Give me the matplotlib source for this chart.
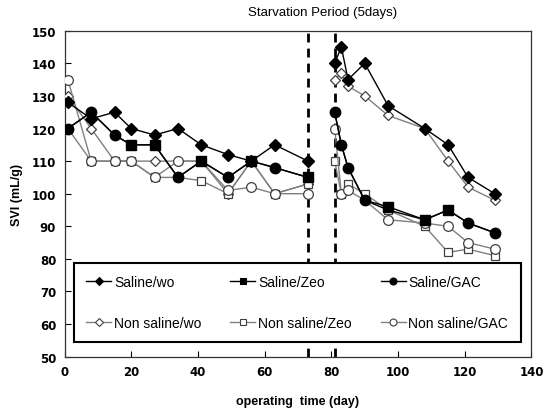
import matplotlib
matplotlib.use("Agg")
import matplotlib.pyplot as plt
from matplotlib.lines import Line2D

# ---- data ----
days_pre = [1, 8, 15, 20, 27, 34, 41, 49, 56, 63, 73]
days_post = [81, 83, 85, 90, 97, 108, 115, 121, 129]

saline_wo_pre = [128, 123, 125, 120, 118, 120, 115, 112, 110, 115, 110]
saline_wo_post = [140, 145, 135, 140, 127, 120, 115, 105, 100]
saline_zeo_pre = [120, 125, 118, 115, 115, 105, 110, 105, 110, 108, 105]
saline_zeo_post = [125, 115, 108, 98, 96, 92, 95, 91, 88]
saline_gac_pre = [120, 125, 118, 115, 115, 105, 110, 105, 110, 108, 105]
saline_gac_post = [125, 115, 108, 98, 95, 92, 95, 91, 88]

non_wo_pre = [130, 120, 110, 110, 110, 110, 110, 100, 110, 100, 103]
non_wo_post = [135, 137, 133, 130, 124, 120, 110, 102, 98]
non_zeo_pre = [120, 110, 110, 110, 105, 105, 104, 100, 110, 100, 103]
non_zeo_post = [110, 100, 103, 100, 95, 90, 82, 83, 81]
non_gac_pre = [135, 110, 110, 110, 105, 110, 110, 101, 102, 100, 100]
non_gac_post = [120, 100, 101, 98, 92, 91, 90, 85, 83]

labels = ["Saline/wo", "Saline/Zeo", "Saline/GAC",
          "Non saline/wo", "Non saline/Zeo", "Non saline/GAC"]
starvation_bounds = [73, 81]
x_ticks = [0, 20, 40, 60, 80, 100, 120, 140]
y_ticks = [50, 60, 70, 80, 90, 100, 110, 120, 130, 140, 150]

# ---- figure ----
fig = plt.figure(figsize=(5.44, 4.14), dpi=100)
ax = fig.add_axes([0.1186, 0.136, 0.8584, 0.7874])

gray = "#808080"
edge_open = "#404040"

def draw(days, vals, marker, ms, filled, color, markevery=None, z=3):
    if filled:
        ax.plot(days, vals, color=color, lw=1.0, marker=marker, ms=ms,
                mfc="black", mec="black", markevery=markevery, zorder=z)
    else:
        ax.plot(days, vals, color=color, lw=1.0, marker=marker, ms=ms,
                mfc="white", mec=edge_open, mew=0.9, markevery=markevery, zorder=z)

# non saline (drawn first, underneath)
for d, v in [(days_pre, non_wo_pre), (days_post, non_wo_post)]:
    draw(d, v, "D", 5.5, False, gray, z=3)
for d, v in [(days_pre, non_zeo_pre), (days_post, non_zeo_post)]:
    draw(d, v, "s", 6, False, gray, z=3.1)
for d, v in [(days_pre, non_gac_pre), (days_post, non_gac_post)]:
    draw(d, v, "o", 7, False, gray, z=3.2)

# saline
draw(days_pre, saline_gac_pre, "o", 7.5, True, "black", markevery=[0, 1, 2, 5, 7, 9], z=4)
draw(days_post, saline_gac_post, "o", 7.5, True, "black", markevery=[0, 1, 2, 3, 7, 8], z=4)
draw(days_pre, saline_zeo_pre, "s", 6.5, True, "black", markevery=[3, 4, 6, 8, 10], z=4.1)
draw(days_post, saline_zeo_post, "s", 6.5, True, "black", markevery=[4, 5, 6], z=4.1)
for d, v in [(days_pre, saline_wo_pre), (days_post, saline_wo_post)]:
    draw(d, v, "D", 6, True, "black", z=4.2)

for xb in starvation_bounds:
    ax.axvline(xb, color="black", lw=2, ls=(0, (3.2, 2.2)), zorder=2)

ax.set_xlim(0, 140)
ax.set_ylim(50, 150)
ax.set_xticks(x_ticks)
ax.set_yticks(y_ticks)
tick_font = dict(family=["Liberation Sans Narrow", "DejaVu Sans"], weight="bold", size=8.5)
ax.set_xticklabels([str(t) for t in x_ticks], **tick_font)
ax.set_yticklabels([str(t) for t in y_ticks], **tick_font)
ax.tick_params(direction="in", length=4, width=0.8, pad=6)
for sp in ax.spines.values():
    sp.set_linewidth(0.9)
    sp.set_color("#333333")

ax.set_xlabel("operating  time (day)", family=["Liberation Sans", "DejaVu Sans"],
              weight="bold", size=9, labelpad=12)
ax.set_ylabel("SVI (mL/g)", family=["Liberation Sans", "DejaVu Sans"],
              weight="bold", size=9, labelpad=6)

fig.text(323 / 544, 1 - 13 / 414, "Starvation Period (5days)",
         family=["Liberation Sans", "DejaVu Sans"], size=9.5, ha="center", va="center")

# legend with explicit handles (row-major order in the picture)
def h(marker, ms, filled, color):
    return Line2D([], [], color=color, lw=1.0, marker=marker, ms=ms,
                  mfc="black" if filled else "white",
                  mec="black" if filled else edge_open, mew=0.8)

handles = [h("D", 4, True, "black"), h("s", 4.5, True, "black"), h("o", 5, True, "black"),
           h("D", 4, False, gray), h("s", 4.5, False, gray), h("o", 5, False, gray)]
order = [0, 3, 1, 4, 2, 5]
leg = ax.legend([handles[i] for i in order], [labels[i] for i in order], ncol=3,
                loc="lower left",
                bbox_to_anchor=(0.02, 0.045, 0.957, 0.239), mode="expand",
                prop=dict(family=["Liberation Sans", "DejaVu Sans"], size=10),
                frameon=True, fancybox=False, framealpha=1, edgecolor="black",
                handlelength=1.8, handletextpad=0.2, labelspacing=1.9,
                borderaxespad=0, borderpad=0.9, columnspacing=1.0)
leg.get_frame().set_linewidth(1.5)
leg.set_zorder(10)

fig.savefig("out.png", dpi=100)
